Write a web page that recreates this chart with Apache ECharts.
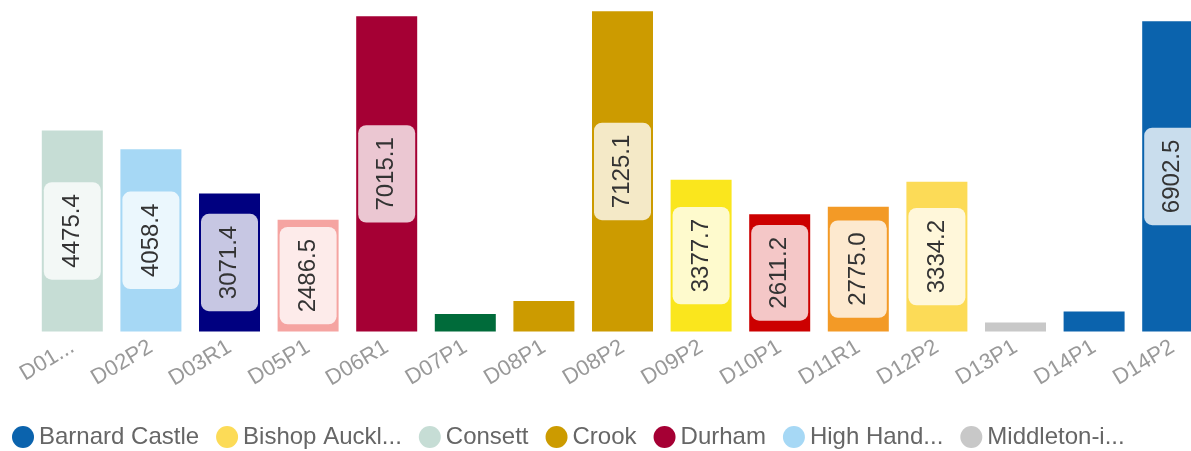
<!DOCTYPE html>
<html>
<head>
<meta charset="utf-8">
<script src="https://cdn.jsdelivr.net/npm/echarts@6/dist/echarts.min.js"></script>
<style>
    html, body { margin: 0; padding: 0; background: #fff; }
    #chart { width: 1191px; height: 451px; }
</style>
</head>
<body>
<div id="chart"></div>
<script>
// categories along the x axis
const categories = ["D01...", "D02P2", "D03R1", "D05P1", "D06R1", "D07P1", "D08P1", "D08P2",
    "D09P2", "D10P1", "D11R1", "D12P2", "D13P1", "D14P1", "D14P2"];
const values = [4475.4, 4058.4, 3071.4, 2486.5, 7015.1, 390, 680, 7125.1,
    3377.7, 2611.2, 2775.0, 3334.2, 200, 445, 6902.5];

// areas (one series each); only the first 7 are visible in the legend
const areaNames = ["Barnard Castle", "Bishop Auckland", "Consett", "Crook", "Durham",
    "High Handenhold", "Middleton-in-Teesdale",
    "Area D03", "Area D05", "Area D07", "Area D09", "Area D10", "Area D11"];
const areaColors = ["#0b63ad", "#fcdb57", "#c6ddd5", "#cc9b00", "#a50034",
    "#a6d8f5", "#c8c8c8",
    "#000080", "#f5a4a1", "#006b3a", "#fae61d", "#cc0000", "#f39a26"];
const legendLabels = ["Barnard Castle", "Bishop Auckl...", "Consett", "Crook", "Durham",
    "High Hand...", "Middleton-i..."];
// which area each bar belongs to (index into areaNames)
const barArea = [2, 5, 7, 8, 4, 9, 3, 3, 10, 11, 12, 1, 6, 0, 0];

const series = areaNames.map((name, a) => ({
    name,
    type: "bar",
    stack: "all",
    barWidth: 61,
    itemStyle: { color: areaColors[a] },
    label: {
        show: true,
        position: "inside",
        rotate: 90,
        fontFamily: "Liberation Sans, Arial, sans-serif",
        fontSize: 24,
        lineHeight: 29,
        color: "#333",
        backgroundColor: "rgba(255,255,255,0.78)",
        borderRadius: 8,
        padding: [14, 12],
        formatter: (p) => p.value.toFixed(1),
    },
    data: categories.map((c, i) =>
        barArea[i] === a ? { value: values[i], label: { show: values[i] >= 1000 } } : null
    ),
}));

const chart = echarts.init(document.getElementById("chart"), null, { renderer: "canvas" });
chart.setOption({
    animation: false,
    grid: { left: 33, right: -21, top: -1, bottom: 119.5, outerBoundsMode: "none" },
    legend: {
        data: areaNames.slice(0, 7),
        left: 7,
        top: 420,
        icon: "circle",
        itemWidth: 22,
        itemHeight: 22,
        itemGap: 17,
        textStyle: { fontSize: 24, color: "#666", fontFamily: "Liberation Sans, Arial, sans-serif" },
        formatter: (name) => legendLabels[areaNames.indexOf(name)],
    },
    xAxis: {
        type: "category",
        data: categories,
        axisLine: { show: false },
        axisTick: { show: false },
        axisLabel: {
            rotate: 31,
            interval: 0,
            margin: 14,
            fontSize: 22,
            color: "#999",
            fontFamily: "Liberation Sans, Arial, sans-serif",
        },
    },
    yAxis: {
        type: "value",
        min: 0,
        max: 7400,
        show: false,
        splitLine: { show: false },
    },
    series,
});
</script>
</body>
</html>
